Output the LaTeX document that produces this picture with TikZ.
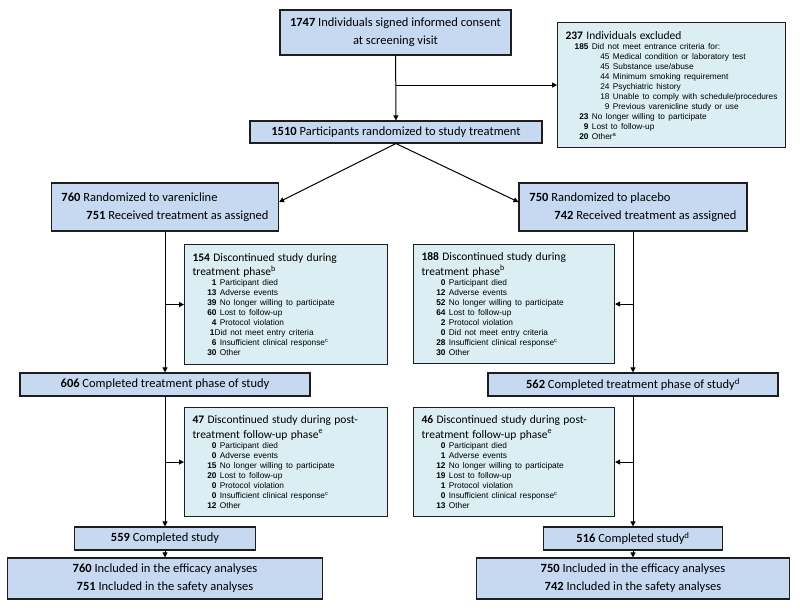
\documentclass[tikz,border=0pt]{standalone}
\usepackage{fontspec}
\setmainfont{Carlito}
\newfontfamily\arial{Liberation Sans}
\usetikzlibrary{arrows.meta}
\setlength{\parindent}{0pt}
\definecolor{boxblue}{RGB}{198,217,241}
\definecolor{boxaqua}{RGB}{218,238,243}
\definecolor{boxline}{RGB}{30,30,30}
\newcommand{\hdrfont}{\fontsize{11.5}{14.3}\selectfont}
\newcommand{\lstfont}{\arial\fontsize{8.3}{10}\selectfont}
\newcommand{\cnt}[2]{\makebox[24pt][r]{\textbf{#1}} #2}
\newcommand{\subcnt}[2]{\makebox[44pt][r]{#1} #2}

\begin{document}
\begin{tikzpicture}[x=1pt,y=-1pt,
    mainbox/.style={draw=boxline,line width=1.1pt,fill=boxblue,font=\fontsize{12.5}{18}\selectfont,align=center,inner sep=0pt},
    notebox/.style={draw=boxline,line width=1.1pt,fill=boxaqua,anchor=north west,align=left,inner xsep=8pt,inner ysep=0pt},
    flow/.style={line width=1pt,-{Triangle[length=5pt,width=5pt]}}]
    \useasboundingbox (0,0) rectangle (800,610);

    \node[mainbox,minimum width=231pt,minimum height=45pt] (consent) at (395.5,32.5) {\textbf{1747} Individuals signed informed consent\\at screening visit};
    \node[mainbox,minimum width=292pt,minimum height=22pt] (random) at (396,132) {\textbf{1510} Participants randomized to study treatment};

    \node[notebox,text width=212pt,minimum height=125pt] (excl) at (557,22) {%
        {\hdrfont\textbf{237} Individuals excluded\par}
        {\lstfont
        \makebox[23pt][r]{\textbf{185}} Did not meet entrance criteria for:\\
        \subcnt{45}{Medical condition or laboratory test}\\
        \subcnt{45}{Substance use/abuse}\\
        \subcnt{44}{Minimum smoking requirement}\\
        \subcnt{24}{Psychiatric history}\\
        \subcnt{18}{Unable to comply with schedule/procedures}\\
        \subcnt{9}{Previous varenicline study or use}\\
        \makebox[23pt][r]{\textbf{23}} No longer willing to participate\\
        \makebox[23pt][r]{\textbf{9}} Lost to follow-up\\
        \makebox[23pt][r]{\textbf{20}} Other\textsuperscript{a}\par}};

    \node[mainbox,align=left,minimum width=227pt,minimum height=48pt] (varen) at (165,207) {\textbf{760} Randomized to varenicline\\\hspace*{25pt}\textbf{751} Received treatment as assigned};
    \node[mainbox,align=left,minimum width=228pt,minimum height=48pt] (placebo) at (633,207) {\textbf{750} Randomized to placebo\\\hspace*{25pt}\textbf{742} Received treatment as assigned};

    \node[notebox,text width=187pt,minimum height=120pt] (discTL) at (184,244) {%
        {\hdrfont\textbf{154} Discontinued study during\\treatment phase\textsuperscript{b}\par}
        {\lstfont
        \cnt{1}{Participant died}\\
        \cnt{13}{Adverse events}\\
        \cnt{39}{No longer willing to participate}\\
        \cnt{60}{Lost to follow-up}\\
        \cnt{4}{Protocol violation}\\
        \makebox[22pt][r]{\textbf{1}}Did not meet entry criteria\\
        \cnt{6}{Insufficient clinical response\textsuperscript{c}}\\
        \cnt{30}{Other}\par}};
    \node[notebox,text width=185pt,minimum height=119pt] (discTR) at (413,244) {%
        {\hdrfont\textbf{188} Discontinued study during\\treatment phase\textsuperscript{b}\par}
        {\lstfont
        \cnt{0}{Participant died}\\
        \cnt{12}{Adverse events}\\
        \cnt{52}{No longer willing to participate}\\
        \cnt{64}{Lost to follow-up}\\
        \cnt{2}{Protocol violation}\\
        \cnt{0}{Did not meet entry criteria}\\
        \cnt{28}{Insufficient clinical response\textsuperscript{c}}\\
        \cnt{30}{Other}\par}};

    \node[mainbox,minimum width=290pt,minimum height=23pt] (compTL) at (165,384.5) {\textbf{606} Completed treatment phase of study};
    \node[mainbox,minimum width=290pt,minimum height=23pt] (compTR) at (633,384.5) {\textbf{562} Completed treatment phase of study\textsuperscript{d}};

    \node[notebox,text width=187pt,minimum height=109pt] (discFL) at (184,407) {%
        {\hdrfont\textbf{47} Discontinued study during post-\\treatment follow-up phase\textsuperscript{e}\par}
        {\lstfont
        \cnt{0}{Participant died}\\
        \cnt{0}{Adverse events}\\
        \cnt{15}{No longer willing to participate}\\
        \cnt{20}{Lost to follow-up}\\
        \cnt{0}{Protocol violation}\\
        \cnt{0}{Insufficient clinical response\textsuperscript{c}}\\
        \cnt{12}{Other}\par}};
    \node[notebox,text width=185pt,minimum height=109pt] (discFR) at (413,407) {%
        {\hdrfont\textbf{46} Discontinued study during post-\\treatment follow-up phase\textsuperscript{e}\par}
        {\lstfont
        \cnt{0}{Participant died}\\
        \cnt{1}{Adverse events}\\
        \cnt{12}{No longer willing to participate}\\
        \cnt{19}{Lost to follow-up}\\
        \cnt{1}{Protocol violation}\\
        \cnt{0}{Insufficient clinical response\textsuperscript{c}}\\
        \cnt{13}{Other}\par}};

    \node[mainbox,minimum width=181pt,minimum height=23pt] (compL) at (165,538.5) {\textbf{559} Completed study};
    \node[mainbox,minimum width=179pt,minimum height=23pt] (compR) at (633,538.5) {\textbf{516} Completed study\textsuperscript{d}};
    \node[mainbox,minimum width=315pt,minimum height=41pt] (anaL) at (165,578.5) {\textbf{760} Included in the efficacy analyses\\\textbf{751} Included in the safety analyses};
    \node[mainbox,minimum width=313pt,minimum height=41pt] (anaR) at (633,578.5) {\textbf{750} Included in the efficacy analyses\\\textbf{742} Included in the safety analyses};

    \draw[flow] (consent) -- (random);
    \draw[flow] (consent.south |- excl.west) -- (excl.west);
    \draw[flow] (random.south) -- ([yshift=5pt]varen.east);
    \draw[flow] (random.south) -- ([yshift=5pt]placebo.west);

    \draw[flow] (varen) -- (compTL);
    \draw[flow] (varen.south |- discTL.west) -- (discTL.west);
    \draw[flow] (compTL) -- (compL);
    \draw[flow] (compTL.south |- discFL.west) -- (discFL.west);
    \draw[flow] (compL) -- (anaL);

    \draw[flow] (placebo) -- (compTR);
    \draw[flow] (placebo.south |- discTR.east) -- (discTR.east);
    \draw[flow] (compTR) -- (compR);
    \draw[flow] (compTR.south |- discFR.east) -- (discFR.east);
    \draw[flow] (compR) -- (anaR);
\end{tikzpicture}
\end{document}
